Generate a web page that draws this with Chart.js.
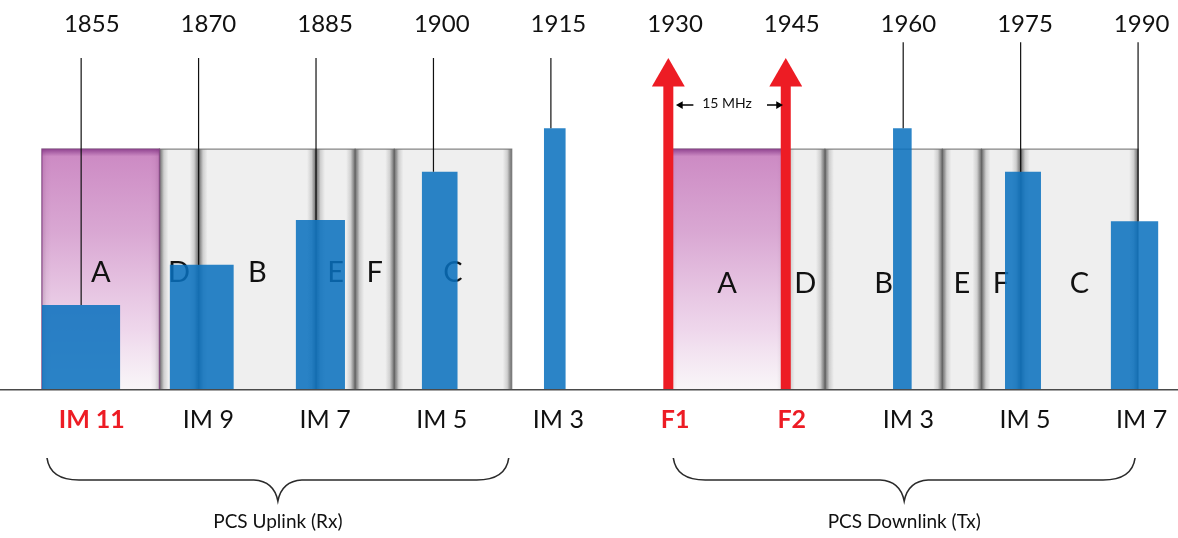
<!DOCTYPE html>
<html>
<head>
<meta charset="utf-8">
<script src="https://cdn.jsdelivr.net/npm/chart.js@4.4.1/dist/chart.umd.min.js"></script>
<style>
  html, body { margin: 0; padding: 0; background: #fff; }
  #wrap { width: 1178px; height: 538px; }
</style>
</head>
<body>
<div id="wrap"><canvas id="c"></canvas></div>
<script>
// frequencies in MHz
const freqTicks = [1855, 1870, 1885, 1900, 1915, 1930, 1945, 1960, 1975, 1990];
const bottomLabels = ['IM 11', 'IM 9', 'IM 7', 'IM 5', 'IM 3', 'F1', 'F2', 'IM 3', 'IM 5', 'IM 7'];
const carriers = [1930, 1945]; // F1, F2

// PCS blocks
const blockNames = ['A', 'D', 'B', 'E', 'F', 'C'];
const uplinkEdges = [1850, 1865, 1870, 1885, 1890, 1895, 1910];
const downlinkEdges = [1930, 1945, 1950, 1965, 1970, 1975, 1990];
const bandLevel = 68.9;
const groupNames = ['PCS Uplink (Rx)', 'PCS Downlink (Tx)'];

// intermod products: nominal freq, occupied span, relative level
const imFreq  = [1855, 1870, 1885, 1900, 1915, 1960, 1975, 1990];
const imLow   = [1850, 1866.3, 1882.4, 1898.5, 1914.1, 1958.7, 1973.0, 1986.5];
const imHigh  = [1860, 1874.5, 1888.7, 1903.1, 1916.9, 1961.1, 1977.6, 1992.6];
const imLevel = [24.3, 35.8, 48.6, 62.4, 74.9, 74.9, 62.4, 48.3];

const FONT = 'Lato, "Open Sans", sans-serif';
const RED = '#ed1c24';
const BLUE = 'rgba(8,112,190,0.86)';
const HIGHLIGHT = new Set(['IM 11', 'F1', 'F2']);

function rect(lo, hi, h) {
  return [{x: lo, y: 0}, {x: lo, y: h}, {x: hi, y: h}, {x: hi, y: 0}];
}

function grayFill(lo, hi) {
  return (c) => {
    const ch = c.chart;
    if (!ch.chartArea) return '#eee';
    const x0 = ch.scales.x.getPixelForValue(lo), x1 = ch.scales.x.getPixelForValue(hi);
    const g = ch.ctx.createLinearGradient(x0, 0, x1, 0);
    const e = 4.5 / (x1 - x0);
    g.addColorStop(0, '#6e6e6e');
    g.addColorStop(0.5 * e, '#9a9a9a');
    g.addColorStop(e, '#cfcfcf');
    g.addColorStop(2 * e, '#efefef');
    g.addColorStop(1 - 2 * e, '#efefef');
    g.addColorStop(1 - e, '#cfcfcf');
    g.addColorStop(1 - 0.5 * e, '#9a9a9a');
    g.addColorStop(1, '#6e6e6e');
    return g;
  };
}

function purpleFill(c) {
  const ch = c.chart;
  if (!ch.chartArea) return 'rgba(200,130,190,0.8)';
  const y0 = ch.scales.y.getPixelForValue(bandLevel), y1 = ch.scales.y.getPixelForValue(0);
  const g = ch.ctx.createLinearGradient(0, y0, 0, y1);
  g.addColorStop(0, 'rgba(140,60,140,0.95)');
  g.addColorStop(0.03, 'rgba(200,125,190,0.88)');
  g.addColorStop(0.35, 'rgba(212,150,204,0.8)');
  g.addColorStop(0.75, 'rgba(238,205,234,0.72)');
  g.addColorStop(1, 'rgba(255,250,254,0.6)');
  return g;
}

const datasets = [];
[uplinkEdges, downlinkEdges].forEach(edges => {
  for (let i = 0; i < edges.length - 1; i++) {
    datasets.push({
      data: rect(edges[i], edges[i + 1], bandLevel),
      backgroundColor: grayFill(edges[i], edges[i + 1]),
      borderColor: 'rgba(95,95,95,0.75)', borderWidth: 1.2, fill: 'origin', order: 8
    });
  }
  // block A highlighted
  datasets.push({
    data: rect(edges[0], edges[1], bandLevel),
    backgroundColor: purpleFill,
    borderColor: 'rgba(140,60,140,0.6)', borderWidth: 1.5, fill: 'origin', order: 7
  });
});
datasets.push({ label: 'letters', data: [], order: 6 });

imFreq.forEach((f, i) => {
  datasets.push({
    data: rect(imLow[i], imHigh[i], imLevel[i]),
    backgroundColor: BLUE, borderWidth: 0, fill: 'origin', order: 5
  });
  datasets.push({
    data: [{x: f, y: imLevel[i]}, {x: f, y: f < 1920 ? 95 : 99.5}],
    borderColor: '#111', borderWidth: 1.2, fill: false, order: 4
  });
});

carriers.forEach(f => {
  datasets.push({
    data: [{x: f, y: 0}, {x: f, y: 89.5}],
    borderColor: RED, borderWidth: 10, fill: false,
    pointRadius: [0, 19], pointStyle: 'triangle', pointBackgroundColor: RED, pointBorderWidth: 0,
    order: 3
  });
});

// spacing arrows between F1 and F2
const [f1, f2] = carriers;
datasets.push({
  data: [{x: f1 + 1.55, y: 81.5}, {x: f1 + 3.2, y: 81.5}],
  borderColor: '#000', borderWidth: 1.5, fill: false,
  pointRadius: [4.5, 0], pointStyle: 'triangle', pointRotation: -90,
  pointBackgroundColor: '#000', pointBorderWidth: 0, order: 2
});
datasets.push({
  data: [{x: f2 - 2.4, y: 81.5}, {x: f2 - 0.93, y: 81.5}],
  borderColor: '#000', borderWidth: 1.5, fill: false,
  pointRadius: [0, 4.5], pointStyle: 'triangle', pointRotation: 90,
  pointBackgroundColor: '#000', pointBorderWidth: 0, order: 2
});
datasets.forEach(d => { d.xAxisID = 'x'; d.yAxisID = 'y'; });

const annotations = {
  id: 'annotations',
  afterDatasetDraw(chart, args) {
    if (chart.data.datasets[args.index].label !== 'letters') return;
    const {ctx, scales: {x, y}} = chart;
    ctx.save();
    ctx.font = '29px ' + FONT;
    ctx.fillStyle = '#111';
    ctx.textAlign = 'center';
    ctx.textBaseline = 'alphabetic';
    [[uplinkEdges, 30.9], [downlinkEdges, 27.7]].forEach(([edges, lv]) => {
      blockNames.forEach((n, i) => {
        ctx.fillText(n, x.getPixelForValue((edges[i] + edges[i + 1]) / 2), y.getPixelForValue(lv));
      });
    });
    ctx.restore();
  },
  afterDraw(chart) {
    const {ctx, scales: {x, y}} = chart;
    ctx.save();
    ctx.fillStyle = '#111';
    ctx.textAlign = 'center';
    ctx.font = '14px ' + FONT;
    ctx.fillText((f2 - f1) + ' MHz', x.getPixelForValue((f1 + f2) / 2), y.getPixelForValue(80.7));

    // braces + group names
    ctx.strokeStyle = '#2a2a2a';
    ctx.lineWidth = 1.6;
    ctx.font = '19px ' + FONT;
    [uplinkEdges, downlinkEdges].forEach((edges, k) => {
      const x0 = x.getPixelForValue(edges[0]) + 5;
      const x1 = x.getPixelForValue(edges[edges.length - 1]) - 3;
      const xc = (x0 + x1) / 2;
      const yT = 458, yH = 480, yP = 501;
      ctx.beginPath();
      ctx.moveTo(x0, yT);
      ctx.quadraticCurveTo(x0 + 3, yH, x0 + 32, yH);
      ctx.lineTo(xc - 24, yH);
      ctx.quadraticCurveTo(xc - 4, yH + 1, xc, yP);
      ctx.quadraticCurveTo(xc + 4, yH + 1, xc + 24, yH);
      ctx.lineTo(x1 - 32, yH);
      ctx.quadraticCurveTo(x1 - 3, yH, x1, yT);
      ctx.stroke();
      ctx.fillText(groupNames[k], xc, 528);
    });
    ctx.restore();
  }
};

const labelAxis = {
  type: 'linear', axis: 'x', min: 1843.2, max: 1994.67,
  afterBuildTicks: a => { a.ticks = freqTicks.map(v => ({value: v})); }
};

new Chart(document.getElementById('c'), {
  type: 'line',
  data: { datasets },
  plugins: [annotations],
  options: {
    responsive: true,
    maintainAspectRatio: false,
    animation: false,
    events: [],
    layout: { autoPadding: false, padding: { top: 7.6, bottom: 99, left: 0, right: 0 } },
    elements: {
      point: { radius: 0 },
      line: { tension: 0, borderCapStyle: 'butt' }
    },
    plugins: { legend: { display: false }, tooltip: { enabled: false } },
    scales: {
      x: { type: 'linear', min: 1844.635, max: 1995.10, display: false },
      y: { min: 0, max: 100, display: false },
      xTop: {
        ...labelAxis,
        position: 'top',
        grid: { display: false, drawTicks: false },
        border: { display: false },
        ticks: {
          padding: 2, autoSkip: false, maxRotation: 0, color: '#111',
          font: { family: FONT, size: 24 },
          callback: v => String(v)
        }
      },
      xBottom: {
        ...labelAxis,
        position: 'bottom',
        grid: { display: true, drawOnChartArea: false, drawTicks: true, tickLength: 10, color: 'rgba(0,0,0,0)' },
        border: { display: true, color: '#4a4a4a', width: 1.5, z: 1 },
        ticks: {
          padding: 4.5, autoSkip: false, maxRotation: 0,
          color: c => HIGHLIGHT.has(bottomLabels[c.index]) ? RED : '#111',
          font: c => ({ family: FONT, size: 25, weight: HIGHLIGHT.has(bottomLabels[c.index]) ? 'bold' : 'normal' }),
          callback: (v, i) => bottomLabels[i]
        }
      }
    }
  }
});
</script>
</body>
</html>
